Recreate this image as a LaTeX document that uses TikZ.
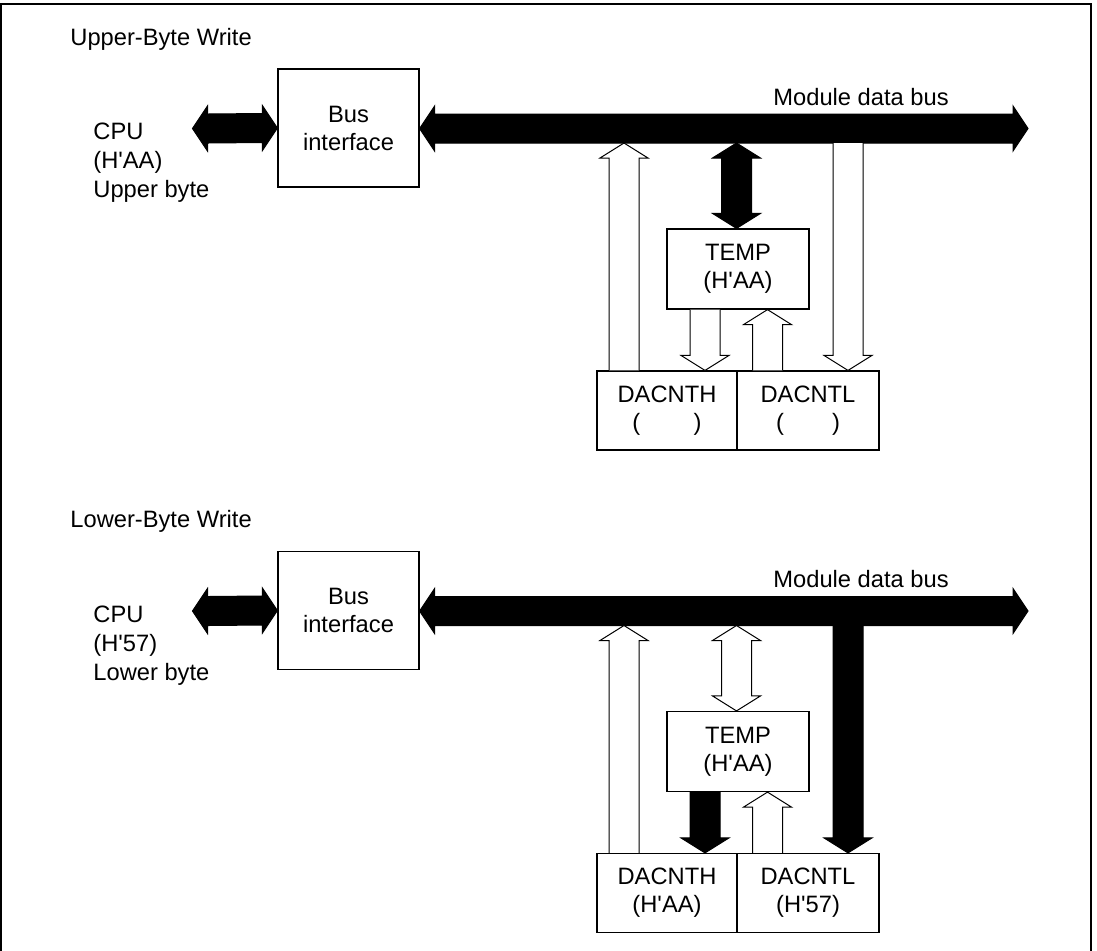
\documentclass[tikz,border=0pt]{standalone}
\usepackage{fontspec}
\setmainfont{Liberation Sans}
\usetikzlibrary{calc}
\newcommand\lblfont{\fontsize{11.85}{14}\selectfont}
\newcommand\cpufont{\fontsize{11.85}{14.5}\selectfont}
\newcommand\apos{\textquotesingle}
% vertical block arrows: style, base/top point, tip point
\newcommand\blkvup[3]{\filldraw[#1] ($#2+(-15,0)$) -- ($#3+(-15,15)$) -- ($#3+(-24,15)$) -- #3 -- ($#3+(24,15)$) -- ($#3+(15,15)$) -- ($#2+(15,0)$);}
\newcommand\blkvdown[3]{\filldraw[#1] ($#2+(-15,0)$) -- ($#3+(-15,-15)$) -- ($#3+(-24,-15)$) -- #3 -- ($#3+(24,-15)$) -- ($#3+(15,-15)$) -- ($#2+(15,0)$);}
\newcommand\blkvboth[3]{\filldraw[#1] #2 -- ($#2+(24,15)$) -- ($#2+(15,15)$) -- ($#3+(15,-15)$) -- ($#3+(24,-15)$) -- #3 -- ($#3+(-24,-15)$) -- ($#3+(-15,-15)$) -- ($#2+(-15,15)$) -- ($#2+(-24,15)$) -- cycle;}
\newcommand\blkhboth[3]{\filldraw[#1] #2 -- ($#2+(15,-22.5)$) -- ($#2+(15,-14.5)$) -- ($#3+(-15,-14.5)$) -- ($#3+(-15,-22.5)$) -- #3 -- ($#3+(-15,22.5)$) -- ($#3+(-15,14.5)$) -- ($#2+(15,14.5)$) -- ($#2+(15,22.5)$) -- cycle;}
\tikzset{
  lbl/.style={inner sep=0pt, font=\lblfont},
  cpulbl/.style={inner sep=0pt, font=\cpufont, align=left, anchor=north west},
  box/.style={draw, line width=0.6pt, inner sep=0pt, align=center, font=\lblfont},
  blk/.style={fill=black, draw=black, line width=0.5pt},
  wht/.style={fill=white, draw=black, line width=0.5pt},
}
\begin{document}
\begin{tikzpicture}[x=0.5pt, y=-0.5pt]
\useasboundingbox (0,0) rectangle (1097,950);
\draw[line width=0.7pt] (1,952) -- (1,4) -- (1091,4) -- (1091,952);
\coordinate (xA) at (624,0);
\coordinate (xB) at (736.5,0);
\coordinate (xC) at (705,0);
\coordinate (xD) at (767.5,0);
\coordinate (xE) at (848,0);

% ---------------- Upper-byte write ----------------
\node[lbl, anchor=base west] (title1) at (70,45) {Upper-Byte Write};
\node[cpulbl] (cpu1) at (93,123) {CPU\\(H\apos AA)\\Upper byte};
\node[box, minimum width=70.5pt, minimum height=59pt] (bi1) at (348.5,128) {Bus\\interface};
\node[box, minimum width=71pt, minimum height=40pt] (temp1) at (738,269) {TEMP\\(H\apos AA)};
\node[box, minimum width=70pt, minimum height=39.5pt] (dh1) at (667,410.5) {DACNTH\\(\phantom{H\apos AA})};
\node[box, minimum width=71pt, minimum height=39.5pt] (dl1) at (808,410.5) {DACNTL\\(\phantom{H\apos 57})};
\coordinate (cpuL1) at (192.5,128.5);
\coordinate (busR1) at (1028,128.5);
\coordinate (busb1) at (600,143);
\node[lbl, anchor=base west] (mdb1) at (773,105) {Module data bus};
\blkhboth{blk}{(cpuL1)}{(bi1.west)}
\blkhboth{blk}{(bi1.east |- busR1)}{(busR1)}
\blkvup{wht}{(xA |- dh1.north)}{(xA |- busb1)}
\blkvboth{blk}{(xB |- busb1)}{(xB |- temp1.north)}
\blkvdown{wht}{(xC |- temp1.south)}{(xC |- dh1.north)}
\blkvup{wht}{(xD |- dl1.north)}{(xD |- temp1.south)}
\blkvdown{wht}{(xE |- busb1)}{(xE |- dl1.north)}

% ---------------- Lower-byte write ----------------
\begin{scope}[shift={(0,482.5)}]
\node[lbl, anchor=base west] (title2) at (70,45) {Lower-Byte Write};
\node[cpulbl] (cpu2) at (93,123) {CPU\\(H\apos 57)\\Lower byte};
\node[box, minimum width=70.5pt, minimum height=59pt] (bi2) at (348.5,128) {Bus\\interface};
\node[box, minimum width=71pt, minimum height=40pt] (temp2) at (738,269) {TEMP\\(H\apos AA)};
\node[box, minimum width=70pt, minimum height=39.5pt] (dh2) at (667,410.5) {DACNTH\\(H\apos AA)};
\node[box, minimum width=71pt, minimum height=39.5pt] (dl2) at (808,410.5) {DACNTL\\(H\apos 57)};
\coordinate (cpuL2) at (192.5,128.5);
\coordinate (busR2) at (1028,128.5);
\coordinate (busb2) at (600,143);
\node[lbl, anchor=base west] (mdb2) at (773,105) {Module data bus};
\end{scope}
\blkhboth{blk}{(cpuL2)}{(bi2.west)}
\blkhboth{blk}{(bi2.east |- busR2)}{(busR2)}
\blkvup{wht}{(xA |- dh2.north)}{(xA |- busb2)}
\blkvboth{wht}{(xB |- busb2)}{(xB |- temp2.north)}
\blkvdown{blk}{(xC |- temp2.south)}{(xC |- dh2.north)}
\blkvup{wht}{(xD |- dl2.north)}{(xD |- temp2.south)}
\blkvdown{blk}{(xE |- busb2)}{(xE |- dl2.north)}
\end{tikzpicture}
\end{document}
